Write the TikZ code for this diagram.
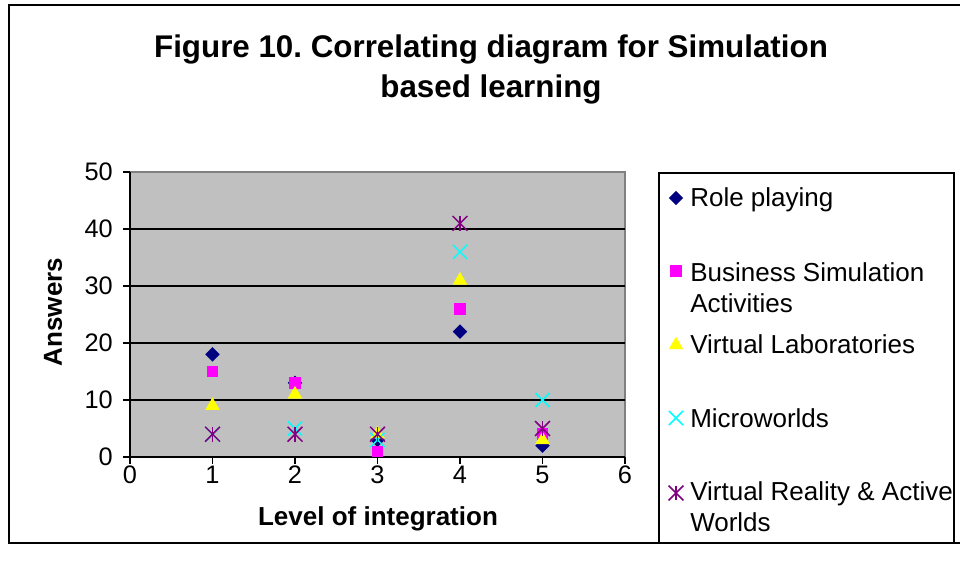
\documentclass[tikz,border=0pt]{standalone}
\usepackage{fontspec}
\setmainfont{Liberation Sans}
\usetikzlibrary{shapes.geometric,shapes.misc}
\frenchspacing

\definecolor{rpcol}{RGB}{0,0,128}
\definecolor{bscol}{RGB}{255,0,255}
\definecolor{vlcol}{RGB}{255,255,0}
\definecolor{mwcol}{RGB}{0,255,255}
\definecolor{vrcol}{RGB}{128,0,128}
\definecolor{plotgray}{RGB}{192,192,192}
\definecolor{edgegray}{RGB}{128,128,128}

\begin{document}
\begin{tikzpicture}[x=0.75pt, y=-0.75pt, every node/.style={inner sep=0pt},
    rpmark/.style={diamond, fill=rpcol, minimum size=11pt},
    bsmark/.style={rectangle, fill=bscol, minimum size=8.6pt},
    vlmark/.style={regular polygon, regular polygon sides=3, fill=vlcol, minimum size=12.6pt},
    mwmark/.style={cross out, draw=mwcol, line width=1.1pt, minimum size=9.5pt},
    vrmark/.style={cross out, draw=vrcol, line width=1.1pt, minimum size=10pt,
        append after command={(\tikzlastnode.north) edge[draw=vrcol, line width=1.1pt] (\tikzlastnode.south)}},
    ticklab/.style={font=\fontsize{19}{23}\selectfont},
    legtext/.style={font=\fontsize{19.5}{23.25}\selectfont, align=left, anchor=base west},
    axtitle/.style={font=\fontsize{19.5}{23}\selectfont\bfseries}]
    \useasboundingbox (0,0) rectangle (960,583);
    \clip (0,0) rectangle (960,583);

    % outer frame
    \draw[line width=1.6pt] (975,5) -- (9,5) -- (9,543) -- (975,543);

    \node[font=\fontsize{23.5}{30}\selectfont\bfseries, align=center, anchor=base] (title) at (491,97) {Figure 10. Correlating diagram for Simulation\\based learning};

    % plot area
    \fill[plotgray] (130,172) rectangle (625,457);
    \draw[edgegray, line width=1pt] (130,172) -- (625,172) -- (625,457);
    \draw[line width=1pt] (130,400) -- (625,400) (130,343) -- (625,343) (130,286) -- (625,286) (130,229) -- (625,229);
    \draw[line width=1pt] (130,172) -- (130,457) -- (625,457);
    \draw[line width=1pt] (123,457) -- (130,457) (123,400) -- (130,400) (123,343) -- (130,343)
        (123,286) -- (130,286) (123,229) -- (130,229) (123,172) -- (130,172);
    \draw[line width=1pt] (130,457) -- (130,464) (212.5,457) -- (212.5,464) (295,457) -- (295,464)
        (377.5,457) -- (377.5,464) (460,457) -- (460,464) (542.5,457) -- (542.5,464) (625,457) -- (625,464);

    \node[ticklab, anchor=east] (y0) at (113,457) {0};
    \node[ticklab, anchor=east] (y10) at (113,400) {10};
    \node[ticklab, anchor=east] (y20) at (113,343) {20};
    \node[ticklab, anchor=east] (y30) at (113,286) {30};
    \node[ticklab, anchor=east] (y40) at (113,229) {40};
    \node[ticklab, anchor=east] (y50) at (113,172) {50};

    \node[ticklab] (x0) at (130,475) {0};
    \node[ticklab] (x1) at (212.5,475) {1};
    \node[ticklab] (x2) at (295,475) {2};
    \node[ticklab] (x3) at (377.5,475) {3};
    \node[ticklab] (x4) at (460,475) {4};
    \node[ticklab] (x5) at (542.5,475) {5};
    \node[ticklab] (x6) at (625,475) {6};

    \node[axtitle, anchor=base] (xtitle) at (378,525) {Level of integration};
    \node[axtitle, rotate=90] (ytitle) at (53,312) {Answers};

    % data
    \begin{scope}[shift={(130,457)}, x=61.875pt, y=4.275pt]
    \node[rpmark] (rp1) at (1,18) {};
    \node[rpmark] (rp2) at (2,13) {};
    \node[rpmark] (rp3) at (3,3) {};
    \node[rpmark] (rp4) at (4,22) {};
    \node[rpmark] (rp5) at (5,2) {};

    \node[bsmark] (bs1) at (1,15) {};
    \node[bsmark] (bs2) at (2,13) {};
    \node[bsmark] (bs3) at (3,1) {};
    \node[bsmark] (bs4) at (4,26) {};
    \node[bsmark] (bs5) at (5,4) {};

    \node[vlmark] (vl1) at (1,9) {};
    \node[vlmark] (vl2) at (2,11) {};
    \node[vlmark] (vl3) at (3,4) {};
    \node[vlmark] (vl4) at (4,31) {};
    \node[vlmark] (vl5) at (5,3) {};

    \node[mwmark] (mw1) at (1,4) {};
    \node[mwmark] (mw2) at (2,5) {};
    \node[mwmark] (mw3) at (3,3) {};
    \node[mwmark] (mw4) at (4,36) {};
    \node[mwmark] (mw5) at (5,10) {};

    \node[vrmark] (vr1) at (1,4) {};
    \node[vrmark] (vr2) at (2,4) {};
    \node[vrmark] (vr3) at (3,4) {};
    \node[vrmark] (vr4) at (4,41) {};
    \node[vrmark] (vr5) at (5,5) {};
    \end{scope}

    % legend
    \draw[line width=0.9pt] (659,173) rectangle (954,543);
    \node[rpmark] (lrp) at (676,198) {};
    \node[legtext] (trp) at (690,206) {Role playing};
    \node[bsmark] (lbs) at (676,271) {};
    \node[legtext] (tbs) at (690,312) {Business Simulation\\Activities};
    \node[vlmark] (lvl) at (676,345) {};
    \node[legtext] (tvl) at (690,353) {Virtual Laboratories};
    \node[mwmark] (lmw) at (676,418) {};
    \node[legtext] (tmw) at (690,427) {Microworlds};
    \node[vrmark] (lvr) at (676,493) {};
    \node[legtext] (tvr) at (690,531) {Virtual Reality \& Active\\Worlds};
\end{tikzpicture}
\end{document}
